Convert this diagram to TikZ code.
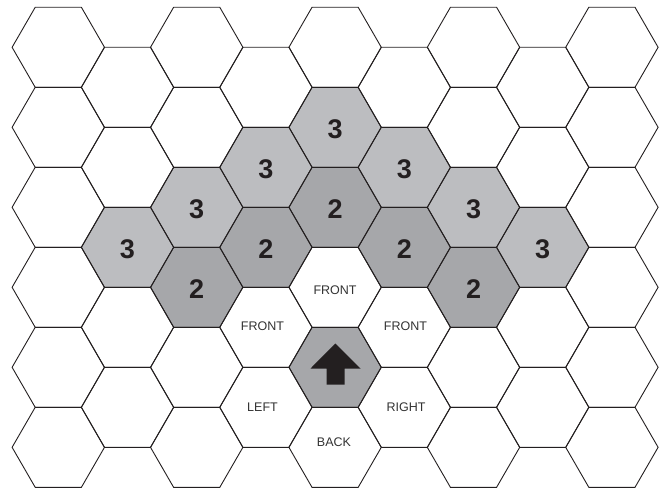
\documentclass[tikz,border=0pt]{standalone}
\usepackage{fontspec}
\setmainfont{Liberation Sans}
\definecolor{lightcell}{HTML}{BCBDC0}
\definecolor{darkcell}{HTML}{A6A7AA}
\definecolor{ink}{HTML}{231F20}
\definecolor{labelink}{HTML}{333333}
\begin{document}
\begin{tikzpicture}[x=1pt,y=-1pt,
  hexcell/.style={draw=ink, line width=0.9pt, line join=miter},
  numlabel/.style={text=ink, font=\fontsize{27}{27}\selectfont\bfseries, inner sep=0pt},
  dirlabel/.style={text=labelink, font=\fontsize{12.5}{13}\selectfont, inner sep=0pt},
  arrowshape/.style={fill=ink, draw=none}]
\useasboundingbox (0,0) rectangle (668,487);
\def\hexp{(46.2,0) -- (23.1,-40) -- (-23.1,-40) -- (-46.2,0) -- (-23.1,40) -- (23.1,40) -- cycle}
% shaded cells
\foreach \cx/\cy in {335.1/127.3, 265.9/167.3, 404.3/167.3, 196.7/207.3, 473.5/207.3, 127.5/247.3, 542.7/247.3}
  \fill[lightcell, shift={(\cx,\cy)}] \hexp;
\foreach \cx/\cy in {335.1/207.3, 265.9/247.3, 404.3/247.3, 196.7/287.3, 473.5/287.3, 335.1/367.3}
  \fill[darkcell, shift={(\cx,\cy)}] \hexp;
% grid
\foreach \c in {0,2,4,6,8}
  \foreach \r in {0,...,5}
    \draw[hexcell, shift={(58.3+69.2*\c, 47.3+80*\r)}] \hexp;
\foreach \c in {1,3,5,7}
  \foreach \r in {0,...,4}
    \draw[hexcell, shift={(58.3+69.2*\c, 87.3+80*\r)}] \hexp;
% numbers
\node[numlabel] (t1) at (335.1,129.3) {3};
\node[numlabel] (t2) at (265.9,169.3) {3};
\node[numlabel] (t3) at (404.3,169.3) {3};
\node[numlabel] (t4) at (196.7,209.3) {3};
\node[numlabel] (t5) at (473.5,209.3) {3};
\node[numlabel] (t6) at (127.5,249.3) {3};
\node[numlabel] (t7) at (542.7,249.3) {3};
\node[numlabel] (d1) at (335.1,209.3) {2};
\node[numlabel] (d2) at (265.9,249.3) {2};
\node[numlabel] (d3) at (404.3,249.3) {2};
\node[numlabel] (d4) at (196.7,289.3) {2};
\node[numlabel] (d5) at (473.5,289.3) {2};
% direction labels
\node[dirlabel] (fc) at (335.1,290) {FRONT};
\node[dirlabel] (fl) at (262.5,326) {FRONT};
\node[dirlabel] (fr) at (405.5,326) {FRONT};
\node[dirlabel] (lf) at (262.5,407) {LEFT};
\node[dirlabel] (rt) at (406,407) {RIGHT};
\node[dirlabel] (bk) at (334,442) {BACK};
% arrow
\fill[arrowshape] (335.3,343.5) -- (360.5,368.5) -- (344.5,368.5) -- (344.5,384.5) -- (326.5,384.5) -- (326.5,368.5) -- (310.5,368.5) -- cycle;
\end{tikzpicture}
\end{document}
